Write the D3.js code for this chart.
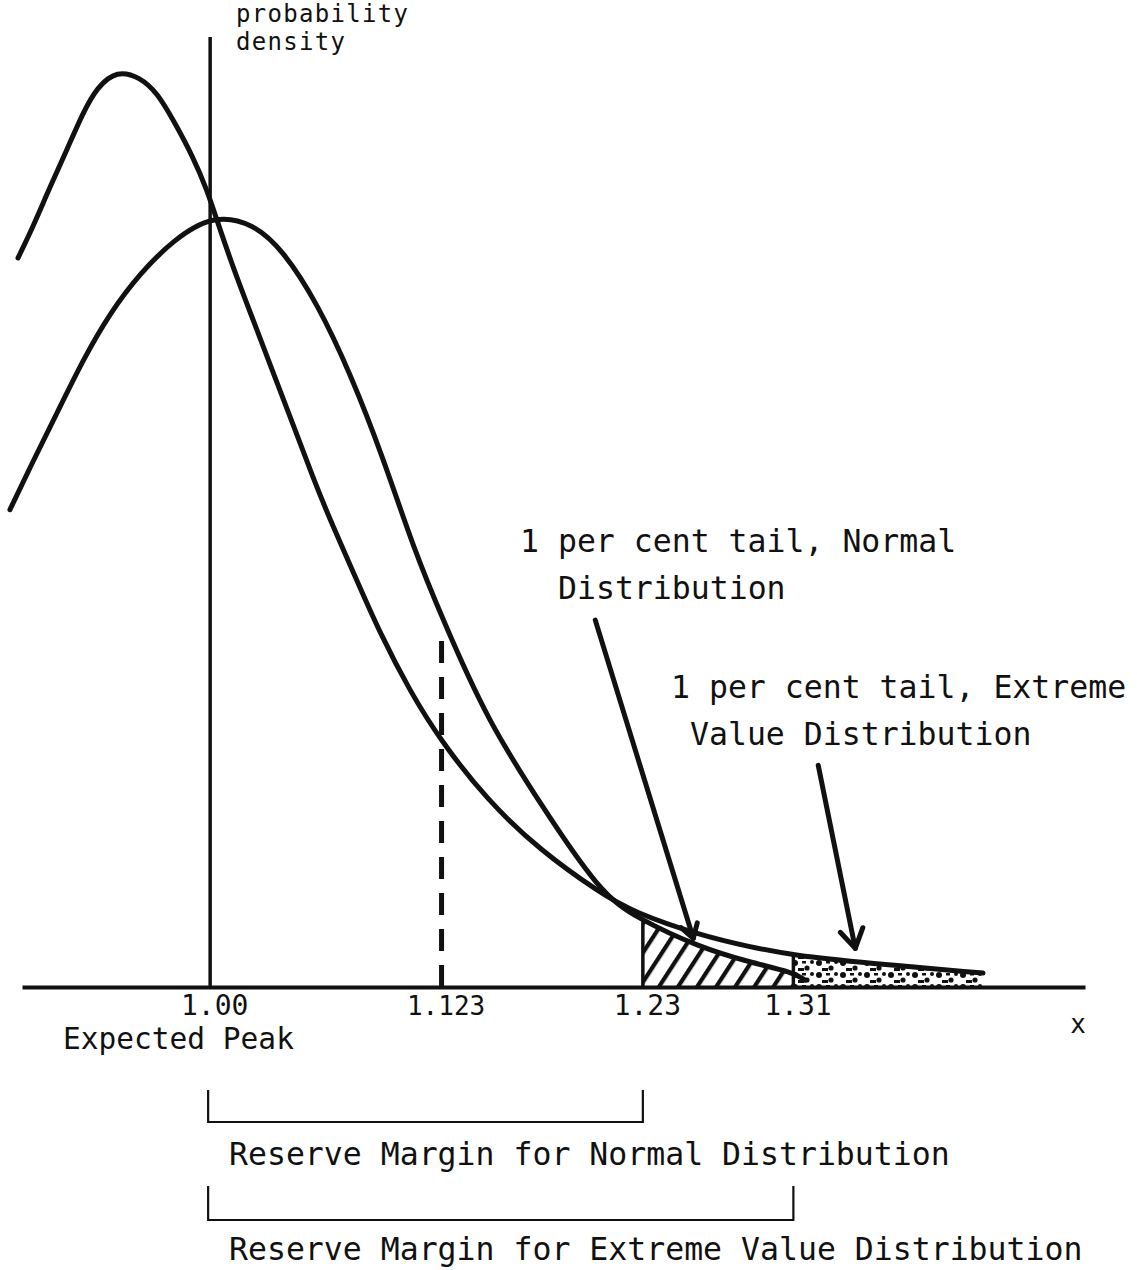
<!DOCTYPE html>
<html>
<head>
<meta charset="utf-8">
<script src="https://cdn.jsdelivr.net/npm/d3@7"></script>
<style>
body { margin: 0; background: #fff; }
text { font-family: "DejaVu Sans Mono", "Liberation Mono", monospace; fill: #111; }
</style>
</head>
<body>
<script>
// curve points (x, relative density; normal peak = 1)
var normalX = [0.8936, 0.9043, 0.9186, 0.9324, 0.9468, 0.9627, 0.9803, 1.0015, 1.0228, 1.0387, 1.0568, 1.0744, 1.0919, 1.1078, 1.1238, 1.1472, 1.1753, 1.2072, 1.2269, 1.2604, 1.2869, 1.3098, 1.3162];
var normalY = [0.618, 0.673, 0.743, 0.812, 0.873, 0.924, 0.967, 1.000, 0.989, 0.954, 0.886, 0.795, 0.686, 0.570, 0.475, 0.346, 0.238, 0.122, 0.089, 0.051, 0.032, 0.019, 0.009];

var extremeX = [0.8979, 0.9058, 0.9149, 0.9239, 0.9324, 0.9399, 0.9505, 0.9627, 0.9718, 0.9803, 0.9909, 0.9983, 1.0036, 1.0121, 1.0228, 1.0334, 1.0440, 1.0547, 1.0653, 1.0781, 1.0903, 1.1062, 1.1222, 1.1472, 1.1753, 1.2072, 1.2248, 1.2604, 1.2869, 1.3098, 1.3491, 1.4108];
var extremeY = [0.944, 0.984, 1.036, 1.084, 1.132, 1.165, 1.187, 1.178, 1.158, 1.123, 1.075, 1.032, 0.993, 0.932, 0.864, 0.796, 0.729, 0.659, 0.596, 0.526, 0.458, 0.383, 0.320, 0.242, 0.177, 0.122, 0.097, 0.067, 0.052, 0.041, 0.031, 0.018];

var tickValues = [1.00, 1.123, 1.23, 1.31];
var tickLabels = ["1.00", "1.123", "1.23", "1.31"];

var normalTail = [1.23, 1.31];      // hatched, under normal curve
var extremeTail = [1.31, 1.411];    // dotted, under extreme value curve
var tailEdgeX = [1.23, 1.31];
var tailEdgeTop = [0.089, 0.041];
var dashX = 1.123, dashTop = 0.465;

// arrows: [fromX, fromY, toX, toY]
var arrowNormal = [1.2047, 0.475, 1.2568, 0.063];
var arrowExtreme = [1.3232, 0.287, 1.3429, 0.050];

var width = 1137, height = 1270;

var x = d3.scaleLinear().domain([0.9, 1.465]).range([22, 1085]);
var y = d3.scaleLinear().domain([0, 1.23]).range([987, 37]);

var svg = d3.select('body')
	.append('svg')
	.attr('width', width)
	.attr('height', height);

var defs = svg.append('defs');

// diagonal hatch
var hatch = defs.append('pattern')
	.attr('id', 'hatch')
	.attr('patternUnits', 'userSpaceOnUse')
	.attr('width', 16)
	.attr('height', 16)
	.attr('patternTransform', 'rotate(33)');
hatch.append('line')
	.attr('x1', 2).attr('y1', 0)
	.attr('x2', 2).attr('y2', 16)
	.attr('stroke', '#111')
	.attr('stroke-width', 4.5);

// speckle dots
var dots = defs.append('pattern')
	.attr('id', 'dots')
	.attr('patternUnits', 'userSpaceOnUse')
	.attr('width', 24)
	.attr('height', 12);
dots.append('circle').attr('cx', 3).attr('cy', 3).attr('r', 3).attr('fill', '#111');
dots.append('circle').attr('cx', 15).attr('cy', 8).attr('r', 2.6).attr('fill', '#111');
dots.append('rect').attr('x', 6).attr('y', 8).attr('width', 6).attr('height', 3).attr('fill', '#111');
dots.append('circle').attr('cx', 20).attr('cy', 2).attr('r', 2).attr('fill', '#111');
dots.append('rect').attr('x', 10).attr('y', 1).attr('width', 4).attr('height', 2.5).attr('fill', '#111');

var normalPts = normalX.map(function(d, i) { return [d, normalY[i]]; });
var extremePts = extremeX.map(function(d, i) { return [d, extremeY[i]]; });

var line = d3.line()
	.x(function(d) { return x(d[0]); })
	.y(function(d) { return y(d[1]); })
	.curve(d3.curveBasis);

var area = d3.area()
	.x(function(d) { return x(d[0]); })
	.y0(y(0))
	.y1(function(d) { return y(d[1]); })
	.curve(d3.curveBasis);

defs.append('clipPath').attr('id', 'clipN')
	.append('rect')
	.attr('x', x(normalTail[0])).attr('y', 0)
	.attr('width', x(normalTail[1]) - x(normalTail[0]))
	.attr('height', y(0));

defs.append('clipPath').attr('id', 'clipE')
	.append('rect')
	.attr('x', x(extremeTail[0])).attr('y', 0)
	.attr('width', x(extremeTail[1]) - x(extremeTail[0]))
	.attr('height', y(0));

// tail areas
svg.append('path')
	.attr('d', area(normalPts))
	.attr('fill', 'url(#hatch)')
	.attr('clip-path', 'url(#clipN)');

svg.append('path')
	.attr('d', area(extremePts))
	.attr('fill', 'url(#dots)')
	.attr('clip-path', 'url(#clipE)');

// tail edges
svg.selectAll('.edge')
	.data(tailEdgeX)
	.enter().append('line')
	.attr('class', 'edge')
	.attr('x1', function(d) { return x(d); })
	.attr('x2', function(d) { return x(d); })
	.attr('y1', y(0))
	.attr('y2', function(d, i) { return y(tailEdgeTop[i]); })
	.attr('stroke', '#111')
	.attr('stroke-width', 3.5);

// dashed line at 1.123
svg.append('line')
	.attr('x1', x(dashX)).attr('x2', x(dashX))
	.attr('y1', y(0)).attr('y2', y(dashTop))
	.attr('stroke', '#111')
	.attr('stroke-width', 5)
	.attr('stroke-dasharray', '22,14');

// curves
[normalPts, extremePts].forEach(function(pts) {
	svg.append('path')
		.attr('d', line(pts))
		.attr('fill', 'none')
		.attr('stroke', '#111')
		.attr('stroke-width', 5)
		.attr('stroke-linecap', 'round');
});

// vertical axis at expected peak
svg.append('line')
	.attr('x1', x(1)).attr('x2', x(1))
	.attr('y1', y(0)).attr('y2', y(1.23))
	.attr('stroke', '#111')
	.attr('stroke-width', 3.5);

// x axis
var xAxis = d3.axisBottom(x)
	.tickValues(tickValues)
	.tickSize(0)
	.tickPadding(0)
	.tickFormat(function(d, i) { return tickLabels[i]; });

var gx = svg.append('g')
	.attr('transform', 'translate(0,' + y(0) + ')')
	.call(xAxis);
gx.select('.domain')
	.attr('stroke', '#111')
	.attr('stroke-width', 4);
gx.selectAll('text')
	.attr('dy', null)
	.attr('y', 28)
	.attr('dx', 4)
	.attr('fill', '#111')
	.style('font-family', '"DejaVu Sans Mono", monospace')
	.style('font-size', function(d) { return d === 1.123 ? '26px' : '28px'; });

svg.append('text').attr('x', 1078).attr('y', 1033)
	.attr('text-anchor', 'middle')
	.style('font-size', '26px').text('x');

svg.append('text').attr('x', 63).attr('y', 1049)
	.style('font-size', '29.5px').text('Expected Peak');

svg.append('text').attr('x', 236).attr('y', 22)
	.style('font-size', '24px').style('letter-spacing', '1.3px').text('probability');
svg.append('text').attr('x', 236).attr('y', 50)
	.style('font-size', '24px').style('letter-spacing', '1.3px').text('density');

svg.append('text').attr('x', 520).attr('y', 552)
	.style('font-size', '31.5px').text('1 per cent tail, Normal');
svg.append('text').attr('x', 558).attr('y', 599)
	.style('font-size', '31.5px').text('Distribution');

svg.append('text').attr('x', 671).attr('y', 698)
	.style('font-size', '31.5px').text('1 per cent tail, Extreme');
svg.append('text').attr('x', 690).attr('y', 745)
	.style('font-size', '31.5px').text('Value Distribution');

// arrows
function arrow(a, len) {
	var x1 = x(a[0]), y1 = y(a[1]), x2 = x(a[2]), y2 = y(a[3]);
	var ang = Math.atan2(y2 - y1, x2 - x1);
	var spread = 0.55;
	svg.append('line')
		.attr('x1', x1).attr('y1', y1).attr('x2', x2).attr('y2', y2)
		.attr('stroke', '#111').attr('stroke-width', 5)
		.attr('stroke-linecap', 'round');
	svg.append('path')
		.attr('d', 'M' + (x2 - len * Math.cos(ang - spread)) + ',' + (y2 - len * Math.sin(ang - spread)) +
			'L' + x2 + ',' + y2 +
			'L' + (x2 - len * Math.cos(ang + spread)) + ',' + (y2 - len * Math.sin(ang + spread)))
		.attr('fill', 'none')
		.attr('stroke', '#111').attr('stroke-width', 5)
		.attr('stroke-linecap', 'round').attr('stroke-linejoin', 'round');
}
arrow(arrowNormal, 16);
arrow(arrowExtreme, 22);

// reserve margin brackets
var brackets = [
	{ to: 1.23, top: 1090, bottom: 1122, label: 'Reserve Margin for Normal Distribution', ly: 1165 },
	{ to: 1.31, top: 1186, bottom: 1220, label: 'Reserve Margin for Extreme Value Distribution', ly: 1260 }
];

brackets.forEach(function(b) {
	svg.append('path')
		.attr('d', 'M' + (x(1) - 2) + ',' + b.top + 'V' + b.bottom + 'H' + x(b.to) + 'V' + b.top)
		.attr('fill', 'none')
		.attr('stroke', '#111')
		.attr('stroke-width', 2.2);
	svg.append('text').attr('x', 229).attr('y', b.ly)
		.style('font-size', '31.5px').text(b.label);
});
</script>
</body>
</html>
